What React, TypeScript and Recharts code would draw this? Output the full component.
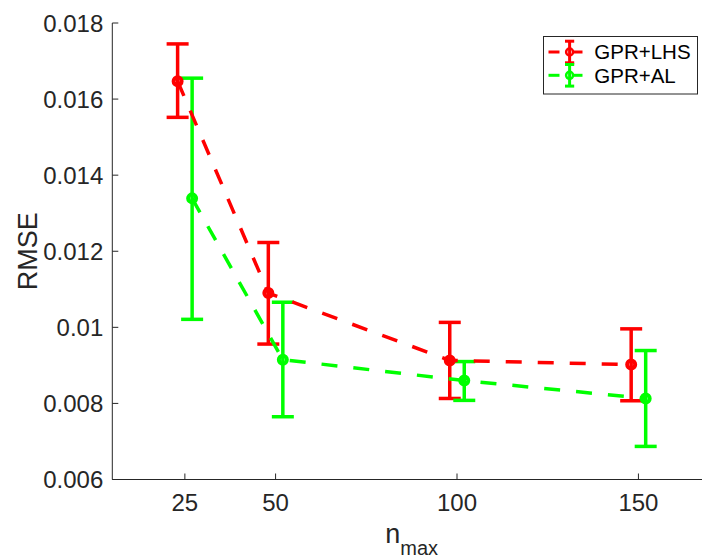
import { ComposedChart, Scatter, ErrorBar, XAxis, YAxis, Legend, Label } from 'recharts';

const nMax = [25, 50, 100, 150];

// GPR+LHS
const lhsRmse = [0.01647, 0.0109, 0.00913, 0.00902];
const lhsLow = [0.01552, 0.00956, 0.00813, 0.00807];
const lhsHigh = [0.01745, 0.01223, 0.01013, 0.00996];

// GPR+AL
const alRmse = [0.01339, 0.00915, 0.0086, 0.00813];
const alLow = [0.01021, 0.00765, 0.00808, 0.00687];
const alHigh = [0.01655, 0.01066, 0.0091, 0.00939];

const xTicks = [25, 50, 100, 150];
const yTicks = [0.006, 0.008, 0.01, 0.012, 0.014, 0.016, 0.018];

const FONT = '"Liberation Sans", Arial, Helvetica, sans-serif';
const AXIS = '#262626';

const series = [
    { name: 'GPR+LHS', color: '#ff0000', shift: -2, y: lhsRmse, lo: lhsLow, hi: lhsHigh },
    { name: 'GPR+AL', color: '#00ff00', shift: 2, y: alRmse, lo: alLow, hi: alHigh },
];

// errorbar() offsets each series a little so the bars don't overlap
const tables = series.map(s =>
    nMax.map((n, i) => ({
        x: n + s.shift,
        y: s.y[i],
        err: [s.y[i] - s.lo[i], s.hi[i] - s.y[i]],
    }))
);

function RmseLabel(props: any) {
    const vb = props.viewBox || { x: 0, y: 0, width: 0, height: 0 };
    const cx = vb.x + 37;
    const cy = vb.y + vb.height / 2;
    return (
        <text x={cx} y={cy} transform={`rotate(-90 ${cx} ${cy})`} textAnchor="middle"
            fontSize={27} fill={AXIS} fontFamily={FONT}>RMSE</text>
    );
}

function NmaxLabel(props: any) {
    const vb = props.viewBox || { x: 0, y: 0, width: 0, height: 0 };
    return (
        <text x={vb.x + vb.width / 2} y={vb.y + 63} textAnchor="middle" fill={AXIS} fontFamily={FONT}>
            <tspan fontSize={27}>n</tspan>
            <tspan fontSize={20} dy={12}>max</tspan>
        </text>
    );
}

function LegendBox() {
    return (
        <svg width={156} height={60} style={{ display: 'block' }}>
            <rect x={0.5} y={0.5} width={154} height={57.5} fill="#fff" stroke={AXIS} strokeWidth={1} />
            {series.map((s, i) => {
                const cy = 16 + i * 23.3;
                return (
                    <g key={s.name}>
                        <line x1={5.5} x2={16.5} y1={cy} y2={cy} stroke={s.color} strokeWidth={3} />
                        <line x1={31} x2={39.5} y1={cy} y2={cy} stroke={s.color} strokeWidth={3} />
                        <line x1={26.6} x2={26.6} y1={cy - 10.8} y2={cy + 10.8} stroke={s.color} strokeWidth={3} />
                        <line x1={22} x2={31.2} y1={cy - 10.8} y2={cy - 10.8} stroke={s.color} strokeWidth={3} />
                        <line x1={22} x2={31.2} y1={cy + 10.8} y2={cy + 10.8} stroke={s.color} strokeWidth={3} />
                        <circle cx={26.6} cy={cy} r={3.5} fill="none" stroke={s.color} strokeWidth={2.5} />
                        <text x={51.3} y={cy + 7.4} fontSize={20.5} fill="#000" fontFamily={FONT}>{s.name}</text>
                    </g>
                );
            })}
        </svg>
    );
}

export default function App() {
    return (
        <div style={{ position: 'absolute', left: 0, top: 0, width: 702, height: 557, overflow: 'hidden', background: '#fff' }}>
            <ComposedChart width={711} height={557} margin={{ top: 23, right: 0, bottom: 0, left: 0 }} style={{ fontFamily: FONT }}>
                <XAxis
                    dataKey="x"
                    type="number"
                    domain={[5, 170]}
                    ticks={xTicks}
                    allowDataOverflow
                    height={77.5}
                    tickSize={-6}
                    tickMargin={20.8}
                    axisLine={{ stroke: AXIS, strokeWidth: 1 }}
                    tickLine={{ stroke: AXIS, strokeWidth: 1 }}
                    tick={{ fontSize: 24, fill: AXIS, fontFamily: FONT }}
                >
                    <Label content={NmaxLabel} />
                </XAxis>
                <XAxis
                    xAxisId="top"
                    orientation="top"
                    type="number"
                    domain={[5, 170]}
                    ticks={xTicks}
                    allowDataOverflow
                    height={0}
                    tickSize={-6}
                    tick={false}
                    axisLine={{ stroke: AXIS, strokeWidth: 1 }}
                    tickLine={{ stroke: AXIS, strokeWidth: 1 }}
                />
                <YAxis
                    dataKey="y"
                    type="number"
                    domain={[0.006, 0.018]}
                    ticks={yTicks}
                    allowDataOverflow
                    width={112.3}
                    tickSize={-6}
                    tickMargin={15}
                    tickFormatter={(v: number) => String(Number(v.toFixed(3)))}
                    axisLine={{ stroke: AXIS, strokeWidth: 1 }}
                    tickLine={{ stroke: AXIS, strokeWidth: 1 }}
                    tick={{ fontSize: 24, fill: AXIS, fontFamily: FONT }}
                >
                    <Label content={RmseLabel} />
                </YAxis>
                {series.map((s, i) => (
                    <Scatter
                        key={s.name}
                        name={s.name}
                        data={tables[i]}
                        fill={s.color}
                        isAnimationActive={false}
                        line={{ stroke: s.color, strokeWidth: 3.5, strokeDasharray: '16 16' }}
                        lineType="joint"
                        shape={(p: any) => (
                            <circle cx={p.cx} cy={p.cy} r={4} fill="none" stroke={s.color} strokeWidth={4} />
                        )}
                    >
                        <ErrorBar dataKey="err" direction="y" width={11} stroke={s.color} strokeWidth={3.5} />
                    </Scatter>
                ))}
                <Legend
                    layout="vertical"
                    align="center"
                    verticalAlign="middle"
                    wrapperStyle={{ left: 542.5, top: 35.5, width: 156, height: 60, lineHeight: 0 }}
                    content={() => <LegendBox />}
                />
            </ComposedChart>
        </div>
    );
}
